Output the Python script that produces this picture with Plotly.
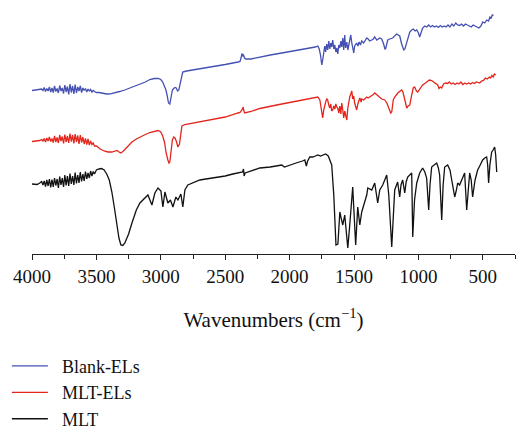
import plotly.graph_objects as go

# Wavenumbers (cm-1) and relative transmittance (a.u., stacked offsets as in the figure)
blank_wn = [4000, 3960, 3940, 3925, 3915, 3905, 3895, 3885, 3875, 3865, 3855, 3845, 3835, 3825, 3815, 3805,
            3795, 3785, 3775, 3765, 3755, 3745, 3735, 3725, 3715, 3705, 3695, 3685, 3675, 3665, 3655, 3645,
            3635, 3625, 3615, 3605, 3595, 3585, 3575, 3565, 3555, 3545, 3535, 3525, 3515, 3500,
            3480, 3450, 3420, 3390, 3360, 3320, 3280, 3240, 3200, 3160, 3120, 3085, 3050, 3020, 3000, 2985,
            2970, 2960, 2950, 2940, 2930, 2920, 2910, 2900, 2890, 2880, 2870, 2860, 2850, 2840, 2830, 2800,
            2700, 2600, 2500, 2400, 2385, 2375, 2370, 2365, 2358, 2350, 2340, 2300, 2231, 2150, 2061, 1975,
            1900, 1843, 1800, 1781, 1770, 1760, 1750, 1743, 1735, 1727, 1720, 1712, 1704, 1696, 1688, 1680,
            1673, 1665, 1657, 1649, 1641, 1634, 1626, 1618, 1610, 1602, 1595, 1587, 1580, 1572, 1565, 1556,
            1548, 1540, 1533, 1525, 1517, 1510, 1502, 1495, 1487, 1479, 1470, 1460, 1450, 1440, 1425, 1410,
            1401, 1390, 1378, 1362, 1350, 1339, 1323, 1300, 1285, 1270, 1260, 1254, 1245, 1238, 1223, 1200,
            1169, 1145, 1130, 1120, 1114, 1105, 1091, 1075, 1067, 1052, 1040, 1025, 1013, 1000, 990, 980,
            967, 951, 935, 920, 905, 890, 875, 860, 845, 830, 815, 800, 785, 770, 755, 740,
            725, 710, 695, 680, 665, 650, 635, 620, 605, 590, 575, 560, 545, 530, 515, 500,
            485, 470, 455, 445, 435, 425, 420]
blank_t = [169.5, 170, 170.5, 171, 169.5, 172.5, 168.5, 171.5, 169, 173, 168, 172, 167.5, 174, 168.5, 171.5,
           167, 174.5, 169, 172, 166.5, 175, 168, 173.5, 165.5, 176, 167.5, 174, 166, 175.5, 167, 173,
           169, 174, 167.5, 172, 169.5, 171.5, 168, 171, 169, 170.5, 168, 169.5, 168.5, 167.5,
           167.5, 166.5, 166, 166.2, 167, 168.5, 170, 172, 173.5, 175.5, 178, 180.5, 181.5, 181.5, 180.5, 178,
           174, 170, 164, 157, 156, 162, 170, 171.5, 172.5, 172, 169, 170, 176, 185, 188, 189,
           191, 193, 195.5, 198, 198.5, 203, 206.5, 204, 205, 202, 201, 201, 203, 205, 207, 209,
           210.5, 211.5, 213, 214, 211, 205, 195, 200, 208, 214, 208, 216, 210, 219, 211, 217,
           213, 220, 211, 215, 208, 212, 206, 215, 212, 219, 213, 222, 210, 225, 212, 218,
           210, 216, 223, 225, 217, 212, 207, 214, 215, 217, 214, 218, 215, 219, 217, 220,
           222, 221, 219, 220, 221, 223, 220, 222, 221, 216, 211, 211.5, 215, 220, 221, 222,
           226, 224, 216, 212, 210, 211, 217, 224, 228, 230, 231, 229, 230, 227, 223, 227,
           232, 234, 233, 235, 233, 234.5, 233, 234, 232.5, 234.5, 233, 234, 233, 235, 233, 236,
           234, 237, 235, 234.5, 236, 234, 236, 235, 234, 233, 235, 234, 232.5, 232, 234, 238,
           237, 240, 239, 243, 242, 245.5, 244]

mltel_wn = [4000, 3960, 3940, 3925, 3915, 3905, 3895, 3885, 3875, 3865, 3855, 3845, 3835, 3825, 3815, 3805,
            3795, 3785, 3775, 3765, 3755, 3745, 3735, 3725, 3715, 3705, 3695, 3685, 3675, 3665, 3655, 3645,
            3635, 3625, 3615, 3605, 3595, 3585, 3575, 3565, 3555, 3545, 3535, 3525, 3515, 3500,
            3470, 3440, 3410, 3380, 3356, 3340, 3330, 3310, 3290, 3260, 3224, 3190, 3162, 3120, 3085, 3050,
            3022, 3000, 2985, 2970, 2960, 2945, 2937, 2930, 2920, 2910, 2900, 2890, 2880, 2867, 2855, 2845,
            2836, 2813, 2700, 2600, 2500, 2400, 2385, 2370, 2360, 2355, 2348, 2300, 2231, 2100, 2000, 1900,
            1800, 1781, 1765, 1750, 1743, 1735, 1727, 1718, 1710, 1704, 1696, 1688, 1680, 1673, 1665, 1657,
            1649, 1641, 1634, 1626, 1618, 1610, 1602, 1595, 1587, 1580, 1572, 1565, 1556, 1548, 1540, 1533,
            1525, 1517, 1510, 1502, 1495, 1487, 1479, 1470, 1460, 1455, 1445, 1440, 1425, 1410, 1401, 1390,
            1378, 1362, 1350, 1339, 1323, 1300, 1285, 1261, 1245, 1230, 1215, 1207, 1195, 1184, 1160, 1130,
            1120, 1105, 1091, 1080, 1067, 1052, 1040, 1029, 1015, 1005, 990, 967, 945, 930, 915, 897,
            880, 865, 850, 840, 830, 819, 805, 790, 773, 760, 745, 730, 715, 700, 685, 670,
            655, 640, 625, 610, 595, 580, 565, 550, 535, 524, 510, 495, 480, 465, 450, 440,
            430, 420, 410, 400]
mltel_t = [118.5, 119, 119.5, 120.5, 119, 121.5, 118, 122, 119, 123, 118.5, 121.5, 117.5, 124, 118, 122.5,
           117, 125, 119, 123.5, 116.5, 125.5, 118, 124, 117, 126.5, 118.5, 125, 116.5, 126, 118, 124.5,
           116, 125, 117.5, 123, 116, 121.5, 115.5, 121, 115, 119, 115.5, 117, 114, 114,
           111, 109, 108, 108, 109, 109.5, 108.5, 107, 109, 113, 118, 121, 123, 125.5, 127.5, 129,
           129.5, 128, 124, 117, 108, 100, 97, 98, 108, 120, 123, 122, 119, 113, 116, 128,
           134, 135.5, 138, 140.5, 143, 147, 147.5, 150, 153, 149, 147, 148.5, 151.5, 155, 157.5, 160.5,
           162.5, 163, 160, 148, 142, 150, 156, 159, 161, 160, 155, 152, 156, 149, 150, 154,
           151, 156, 153, 152, 147, 154, 146, 157, 150, 142, 149, 144, 140, 152, 160, 163,
           166, 169, 161, 164, 157, 153, 150, 156, 159, 162, 158, 161, 160, 162, 163, 162,
           163, 164, 165.5, 167, 165, 163, 161, 160, 157, 152, 147, 148, 160, 163, 167, 170,
           168, 160, 152, 154, 155, 165, 172, 173, 169, 168, 171, 175, 177, 179, 180, 179.5,
           178, 176, 175, 171.5, 173, 172, 176, 177, 176.5, 178, 176, 177, 175.5, 177, 176, 178,
           175.5, 177, 176, 177, 176, 177.5, 176.5, 178, 177.5, 177, 179, 179.5, 182, 181, 183, 182,
           184.5, 183, 186, 185]

mlt_wn = [4000, 3960, 3940, 3925, 3915, 3905, 3895, 3885, 3875, 3865, 3855, 3845, 3835, 3825, 3815, 3805,
          3795, 3785, 3775, 3765, 3755, 3745, 3735, 3725, 3715, 3705, 3695, 3685, 3675, 3665, 3655, 3645,
          3635, 3625, 3615, 3605, 3595, 3585, 3575, 3565, 3555, 3545, 3535, 3525, 3515, 3500,
          3480, 3460, 3440, 3420, 3400, 3380, 3360, 3340, 3325, 3310, 3295, 3279, 3250, 3224, 3190, 3162,
          3123, 3100, 3069, 3046, 3022, 2999, 2984, 2968, 2945, 2925, 2906, 2883, 2867, 2844, 2829, 2813,
          2790, 2751, 2697, 2650, 2600, 2565, 2500, 2441, 2400, 2365, 2358, 2353, 2345, 2300, 2231, 2150,
          2090, 2061, 2040, 2000, 1950, 1900, 1882, 1870, 1860, 1843, 1820, 1800, 1780, 1760, 1740, 1720,
          1700, 1690, 1673, 1657, 1640, 1625, 1610, 1600, 1587, 1572, 1548, 1533, 1510, 1487, 1471, 1455,
          1440, 1424, 1401, 1393, 1362, 1339, 1316, 1300, 1277, 1246, 1230, 1207, 1195, 1184, 1161, 1145,
          1135, 1122, 1106, 1095, 1083, 1052, 1044, 1030, 1013, 1000, 990, 967, 950, 936, 920, 910,
          897, 878, 858, 845, 835, 819, 808, 796, 773, 755, 742, 718, 705, 695, 680, 664,
          650, 641, 625, 612, 602, 590, 579, 560, 540, 520, 501, 485, 470, 462, 455, 445,
          431, 420, 408, 400, 392]
mlt_t = [76, 75.5, 77, 78.5, 75, 79, 73.5, 80, 74, 81, 72.5, 80.5, 73, 82, 74.5, 81,
         72, 83.5, 75, 82, 73, 85, 74.5, 84, 74, 86.5, 76, 84, 75, 87.5, 76.5, 85,
         77, 88, 78.5, 86, 79, 88.5, 81, 87, 82, 89, 84, 88.5, 86, 90,
         91, 91.5, 90, 86, 80, 68, 52, 35, 22, 15, 14.5, 17, 26, 37, 50, 57,
         62, 65, 55, 67, 72, 69, 53, 68, 57, 60, 53, 63, 60, 66, 53, 70,
         75, 77, 80, 81, 82, 83, 84, 86, 87, 88, 91, 84, 87, 89, 92, 93,
         94, 95, 93, 95, 97, 99, 100, 94, 99, 103, 103, 104, 105, 104, 105, 106,
         104, 100, 95, 65, 15, 16, 48, 42, 35, 45, 12, 35, 73, 15, 53, 35,
         48, 55, 65, 72, 70, 77, 57, 70, 75, 85, 65, 13, 45, 70, 78, 63,
         75, 80, 67, 78, 83, 87, 23, 60, 77, 84, 87, 92, 88, 82, 50, 75,
         93, 95, 97, 92, 85, 40, 75, 93, 95, 90, 80, 63, 70, 77, 75, 80,
         85, 87, 50, 75, 87, 80, 63, 80, 90, 95, 100, 102, 103, 95, 77, 95,
         108, 110, 113, 105, 88]

series_names = ["Blank-ELs", "MLT-ELs", "MLT"]
series_colors = ["#4450B2", "#E3261C", "#111111"]
x_ticks = [4000, 3500, 3000, 2500, 2000, 1500, 1000, 500]

FONT = "Liberation Serif"
NBSP = "\u00a0\u00a0"

fig = go.Figure()
for name, color, xs, ys in zip(series_names, series_colors,
                               [blank_wn, mltel_wn, mlt_wn], [blank_t, mltel_t, mlt_t]):
    fig.add_trace(go.Scatter(x=xs, y=ys, mode="lines", name=NBSP + name,
                             line=dict(color=color, width=1.3)))

fig.update_layout(
    width=519, height=428,
    margin=dict(l=32, r=4, t=0, b=174, autoexpand=False),
    paper_bgcolor="white", plot_bgcolor="white",
    font=dict(family=FONT, color="#111111", size=19),
    showlegend=True,
    legend=dict(x=-0.052, y=-0.369, xanchor="left", yanchor="top",
                traceorder="normal", itemwidth=36,
                font=dict(family=FONT, size=18, color="#111111"),
                bgcolor="rgba(0,0,0,0)", borderwidth=0),
)
fig.update_xaxes(
    range=[4000, 250], showgrid=False, zeroline=False, automargin=False,
    showline=True, linecolor="#222222", linewidth=1,
    ticks="outside", ticklen=5, tickwidth=1, tickcolor="#222222",
    tickvals=x_ticks, ticktext=[str(v) for v in x_ticks], ticklabelstandoff=0,
    tickfont=dict(family=FONT, size=19, color="#111111"),
    minor=dict(dtick=250, tick0=0, ticks="outside", ticklen=4, tickcolor="#222222", showgrid=False),
    title=dict(text="Wavenumbers (cm<sup>−1</sup>)", font=dict(family=FONT, size=21, color="#111111"),
               standoff=26),
)
fig.update_yaxes(range=[6, 260], visible=False)

fig.write_html("out.html", config={"displayModeBar": False},
               post_script="document.body.style.margin='0';document.body.style.padding='0';")
